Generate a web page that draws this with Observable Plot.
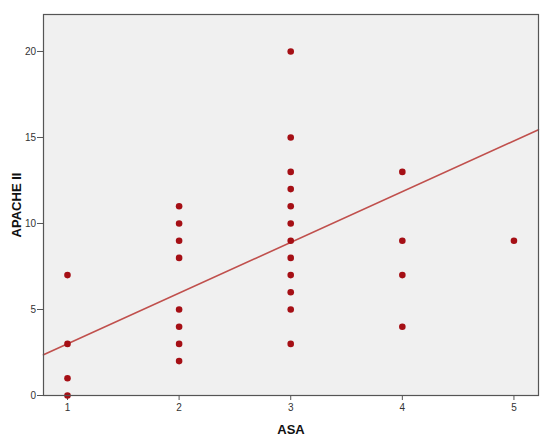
<!DOCTYPE html>
<html>
<head>
<meta charset="utf-8">
<script src="https://cdn.jsdelivr.net/npm/d3@7"></script>
<script src="https://cdn.jsdelivr.net/npm/@observablehq/plot@0.6"></script>
<style>
  html, body { margin: 0; padding: 0; background: #ffffff; }
  #chart { width: 550px; height: 445px; }
</style>
</head>
<body>
<div id="chart"></div>
<script>
// Data
const asa = [1,1,1,1, 2,2,2,2,2,2,2,2, 3,3,3,3,3,3,3,3,3,3,3,3, 4,4,4,4, 5];
const apache = [0,1,3,7, 2,3,4,5,8,9,10,11, 3,5,6,7,8,9,10,11,12,13,15,20, 4,7,9,13, 9];
const xTicks = [1, 2, 3, 4, 5];
const yTicks = [0, 5, 10, 15, 20];
// Fit line: APACHE II = intercept + slope * ASA
const fitIntercept = 0.05;
const fitSlope = 2.95;

const xDomain = [0.785, 5.22];
const yDomain = [0, 22.15];

const points = asa.map((a, i) => ({ASA: a, APACHE: apache[i]}));
const fitLine = xDomain.map(x => ({ASA: x, APACHE: fitIntercept + fitSlope * x}));

const chart = Plot.plot({
  width: 550,
  height: 445,
  marginLeft: 43,
  marginRight: 12,
  marginTop: 14,
  marginBottom: 50,
  style: {fontFamily: "'Liberation Sans', Arial, sans-serif", background: "#ffffff", color: "#333333"},
  x: {domain: xDomain, label: null},
  y: {domain: yDomain, label: null},
  marks: [
    Plot.rect([0], {x1: xDomain[0], x2: xDomain[1], y1: yDomain[0], y2: yDomain[1], fill: "#f0f0f0"}),
    Plot.axisX({ticks: xTicks, tickSize: 5, tickPadding: 3, fontSize: 10, stroke: "#555", fill: "#333", tickFormat: d3.format("d")}),
    Plot.axisY({ticks: yTicks, tickSize: 6, tickPadding: 1.5, fontSize: 10, stroke: "#555", fill: "#333", tickFormat: d3.format("d")}),
    Plot.line(fitLine, {x: "ASA", y: "APACHE", stroke: "#c0504d", strokeWidth: 1.6}),
    Plot.dot(points, {x: "ASA", y: "APACHE", r: 3.3, fill: "#a50f15", stroke: "none"}),
    Plot.frame({stroke: "#555555", strokeWidth: 1.2}),
    Plot.text(["ASA"], {frameAnchor: "bottom", dy: 38, text: d => d, fontSize: 13, fontWeight: "bold", fill: "#111"}),
    Plot.text(["APACHE II"], {frameAnchor: "left", textAnchor: "middle", dx: -27, rotate: -90, text: d => d, fontSize: 13, fontWeight: "bold", fill: "#111"})
  ]
});
document.getElementById("chart").appendChild(chart);
</script>
</body>
</html>
